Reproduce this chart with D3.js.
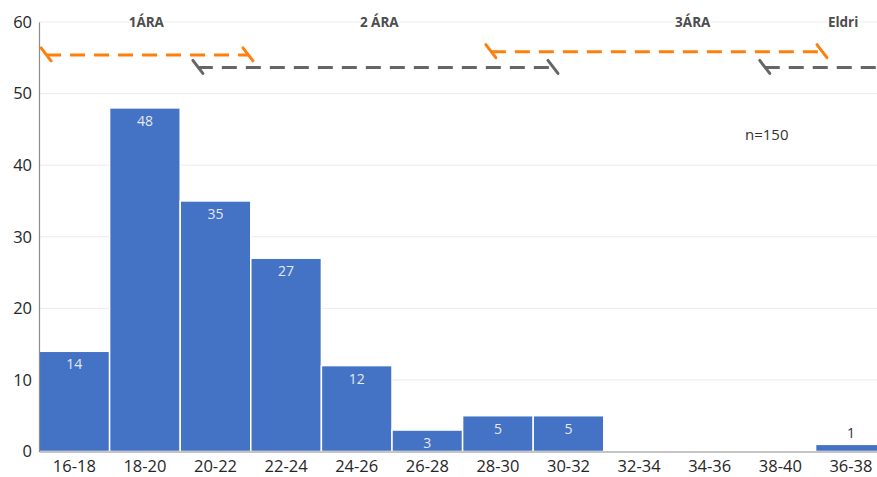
<!DOCTYPE html>
<html>
<head>
<meta charset="utf-8">
<script src="https://cdn.jsdelivr.net/npm/d3@7"></script>
<style>
  html, body { margin: 0; padding: 0; background: #fff; }
  svg { display: block; font-family: "Open Sans", "DejaVu Sans", sans-serif; }
</style>
</head>
<body>
<svg id="chart" width="877" height="477"></svg>
<script>
// Age groups and number of people in each
const categories = ["16-18", "18-20", "20-22", "22-24", "24-26", "26-28",
                    "28-30", "30-32", "32-34", "34-36", "38-40", "36-38"];
const counts = [14, 48, 35, 27, 12, 3, 5, 5, 0, 0, 0, 1];
const yTicks = [0, 10, 20, 30, 40, 50, 60];

// School-year bands drawn across the top (x in category units, y in count units)
const periodLabels = ["1ÁRA", "2 ÁRA", "3ÁRA", "Eldri"];
const periodLabelAt = [1.52, 4.82, 9.26, 11.39];
const spanStart = [0.1, 2.25, 6.4, 10.28];
const spanEnd = [2.96, 7.28, 11.09, 12.4];
const spanLevel = [55.4, 53.65, 55.85, 53.65];
const spanKind = ["orange", "gray", "orange", "gray"];
const sampleNote = "n=150";

const margin = { left: 39, top: 22, bottom: 25.5 };
const width = 877, height = 477;
const step = 70.6;
const plotRight = margin.left + step * categories.length;

const svg = d3.select("#chart");

const x = d3.scaleBand().domain(categories)
  .range([margin.left, plotRight]).paddingInner(0).paddingOuter(0);
const xu = d3.scaleLinear().domain([0, categories.length]).range([margin.left, plotRight]);
const y = d3.scaleLinear().domain([0, 60]).range([height - margin.bottom, margin.top]);

const rows = categories.map((c, i) => ({ cat: c, v: counts[i] })).filter(d => d.v > 0);

// Horizontal gridlines
svg.append("g").selectAll("line").data(yTicks.filter(d => d > 0)).join("line")
  .attr("x1", margin.left).attr("x2", width)
  .attr("y1", d => y(d)).attr("y2", d => y(d))
  .attr("stroke", "#ebebeb").attr("stroke-width", 1);

// Bars
svg.append("g").selectAll("rect").data(rows).join("rect")
  .attr("x", d => x(d.cat))
  .attr("y", d => y(d.v))
  .attr("width", x.bandwidth())
  .attr("height", d => y(0) - y(d.v))
  .attr("fill", "#4472c4")
  .attr("stroke", "#fff").attr("stroke-width", 1.5);

// Value labels: inside the bar when it is tall enough, above otherwise
svg.append("g").selectAll("text").data(rows).join("text")
  .attr("x", d => x(d.cat) + x.bandwidth() / 2)
  .attr("y", d => d.v >= 3 ? y(d.v) + 18 : y(d.v) - 6)
  .attr("text-anchor", "middle")
  .attr("font-size", 14)
  .attr("fill", d => d.v >= 3 ? "#e4e8f0" : "#333")
  .text(d => d.v);

// Y axis
const yAxis = svg.append("g").attr("transform", `translate(${margin.left},0)`)
  .call(d3.axisLeft(y).tickValues(yTicks).tickSize(0).tickPadding(7));
yAxis.select(".domain").attr("stroke", "#8c8c8c").attr("stroke-width", 1.2);
yAxis.selectAll("text").attr("font-size", 16.5).attr("fill", "#262626")
  .attr("font-family", "'Open Sans', sans-serif");

// X axis
const xAxis = svg.append("g").attr("transform", `translate(0,${y(0)})`)
  .call(d3.axisBottom(x).tickSize(0).tickPadding(9));
xAxis.select(".domain").attr("stroke", "#8c8c8c").attr("stroke-width", 1.2);
xAxis.selectAll("text").attr("font-size", 16.5).attr("fill", "#262626")
  .attr("font-family", "'Open Sans', sans-serif");

// School-year span lines with slanted end marks
const kindColor = { orange: "#ff7f0e", gray: "#666666" };
const spans = svg.append("g");
spanStart.forEach((s, i) => {
  const x1 = xu(s), x2 = xu(spanEnd[i]), yy = y(spanLevel[i]);
  const c = kindColor[spanKind[i]];
  spans.append("line")
    .attr("x1", x1).attr("x2", x2).attr("y1", yy).attr("y2", yy)
    .attr("stroke", c).attr("stroke-width", 3)
    .attr("stroke-dasharray", "15,9");
  [x1, x2].forEach(xe => {
    spans.append("line")
      .attr("x1", xe - 5).attr("y1", yy - 7)
      .attr("x2", xe + 5).attr("y2", yy + 6)
      .attr("stroke", c).attr("stroke-width", 3)
      .attr("stroke-linecap", "round");
  });
});

// Period labels
svg.append("g").selectAll("text").data(periodLabels).join("text")
  .attr("x", (d, i) => xu(periodLabelAt[i]))
  .attr("y", 27)
  .attr("text-anchor", "middle")
  .attr("font-size", 13.5).attr("font-weight", "bold")
  .attr("fill", "#4d4d4d")
  .attr("stroke", "#fff").attr("stroke-width", 4).attr("paint-order", "stroke")
  .text(d => d);

// Sample size note
svg.append("text")
  .attr("x", xu(10.0)).attr("y", 140)
  .attr("font-size", 15).attr("fill", "#333")
  .text(sampleNote);
</script>
</body>
</html>
